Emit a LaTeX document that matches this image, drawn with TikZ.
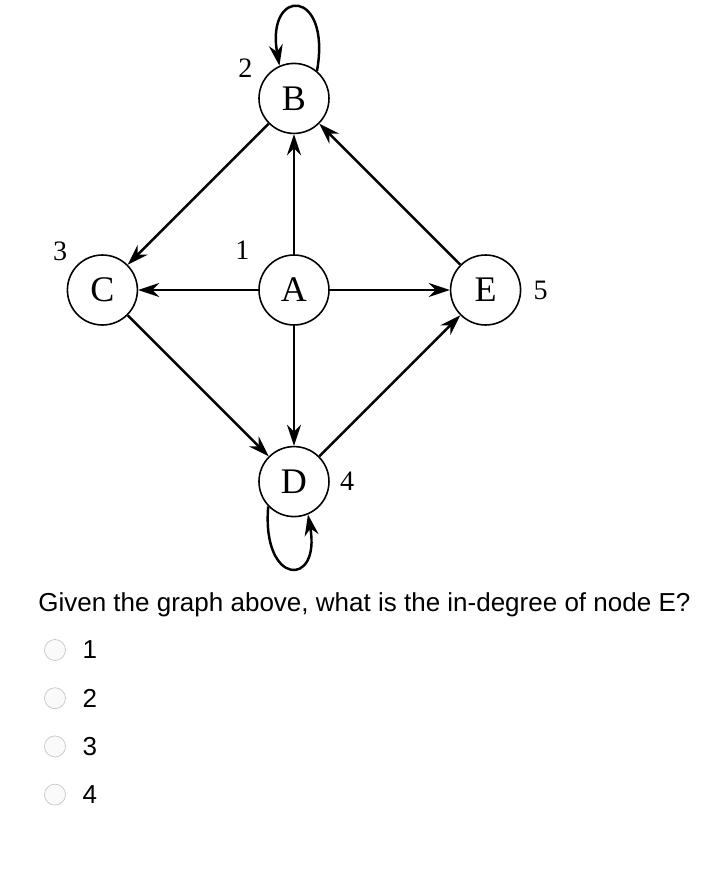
\documentclass[tikz,border=0pt]{standalone}
\usepackage{fontspec}
\setmainfont{Liberation Serif}
\setsansfont{Liberation Sans}
\usetikzlibrary{arrows.meta,
positioning}

\begin{document}
\begin{tikzpicture}[
		node distance=2.4cm,
		>={Stealth[length=4.2mm,width=2.8mm]},
		vertex/.style={
			draw,
			circle,
			line width=0.9pt,
			minimum size=1.4cm,
			inner sep=0pt,
			font=\fontsize{20.5}{24}\selectfont
		},
		num/.style={
			inner sep=0pt,
			font=\fontsize{16}{19}\selectfont
		},
		edge/.style={
			->,
			line width=1.4pt
		},
		radio/.style={
			circle,
			draw=gray!45,
			fill=gray!4,
			minimum size=0.42cm,
			inner sep=0pt
		},
		answer/.style={
			inner sep=0pt,
			anchor=west,
			font=\sffamily\fontsize{14.8}{17}\selectfont
		}
		]
		
		\useasboundingbox (-5.88,5.80) rectangle ++(14.38,-17.48);
		
		% Vertices
		\node[vertex] (A) {A};
		\node[vertex, above=of A] (B) {B};
		\node[vertex, left=of A] (C) {C};
		\node[vertex, below=of A] (D) {D};
		\node[vertex, right=of A] (E) {E};
		
		% Numbers
		\node[num, above left=0.1cm and 0.38cm of A] (nA) {1};
		\node[num, above left=-0.1cm and 0.32cm of B] (nB) {2};
		\node[num, above left=0.07cm and 0.19cm of C] (nC) {3};
		\node[num, right=0.2cm of D] (nD) {4};
		\node[num, right=0.24cm of E] (nE) {5};
		
		% Edges
		\draw[edge] (A) -- (B);
		\draw[edge] (A) -- (C);
		\draw[edge] (A) -- (D);
		\draw[edge] (A) -- (E);
		\draw[edge] (B) -- (C);
		\draw[edge] (E) -- (B);
		\draw[edge] (C) -- (D);
		\draw[edge] (D) -- (E);
		
		% Loops
		\draw[edge] (B.50) .. controls +(80:1.7) and +(100:1.6) .. (B.114);
		\draw[edge] (D.224) .. controls +(265:1.6) and +(-80:1.5) .. (D.-67);
		
		% Question
		\node[answer] (q) at (-5.12,-6.30)
		{Given the graph above, what is the in-degree of node E?};
		
		\node[radio] (r1) at (-4.78,-7.20) {};
		\node[radio, below=0.53cm of r1] (r2) {};
		\node[radio, below=0.53cm of r2] (r3) {};
		\node[radio, below=0.53cm of r3] (r4) {};
		
		\node[answer, right=0.33cm of r1] (a1) {1};
		\node[answer, right=0.33cm of r2] (a2) {2};
		\node[answer, right=0.33cm of r3] (a3) {3};
		\node[answer, right=0.33cm of r4] (a4) {4};
		
	\end{tikzpicture}
\end{document}
